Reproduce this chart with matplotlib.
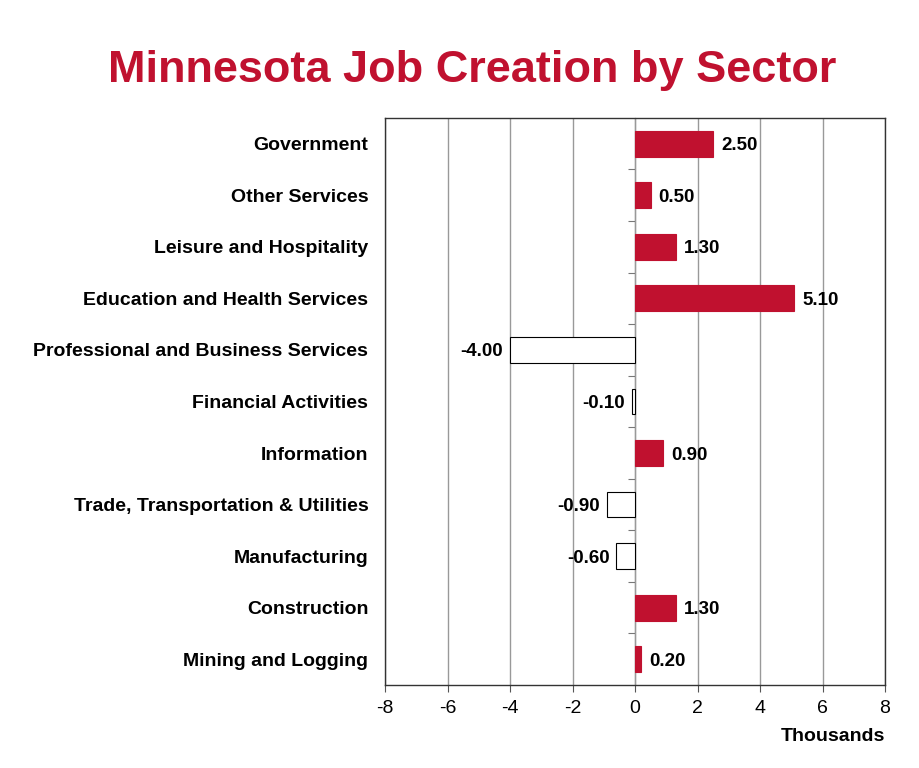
import matplotlib
matplotlib.use('Agg')
import matplotlib.pyplot as plt
import numpy as np

# data, bottom to top
sectors = ['Mining and Logging', 'Construction', 'Manufacturing',
           'Trade, Transportation & Utilities', 'Information',
           'Financial Activities', 'Professional and Business Services',
           'Education and Health Services', 'Leisure and Hospitality',
           'Other Services', 'Government']
jobs = [0.2, 1.3, -0.6, -0.9, 0.9, -0.1, -4.0, 5.1, 1.3, 0.5, 2.5]
xticks = [-8, -6, -4, -2, 0, 2, 4, 6, 8]

red = '#C0112F'
plt.rcParams['font.family'] = ['Liberation Sans', 'DejaVu Sans']

fig = plt.figure(figsize=(9.2, 7.68), dpi=100)
ax = fig.add_axes([0.4185, 0.108, 0.5435, 0.7385])

y = np.arange(len(sectors))
colors = [red if v >= 0 else 'white' for v in jobs]
edges = [red if v >= 0 else 'black' for v in jobs]
ax.barh(y, jobs, height=0.5, color=colors, edgecolor=edges, linewidth=0.8, zorder=3)

for yi, v in zip(y, jobs):
    if v >= 0:
        ax.text(v + 0.25, yi, f'{v:.2f}', va='center_baseline', ha='left',
                fontsize=13.5, fontweight='bold')
    else:
        ax.text(v - 0.22, yi, f'{v:.2f}', va='center_baseline', ha='right',
                fontsize=13.5, fontweight='bold')

ax.set_xlim(-8, 8)
ax.set_ylim(-0.5, len(sectors) - 0.5)
ax.set_xticks(xticks)
ax.set_xticklabels([str(t) for t in xticks], fontsize=14)
ax.set_yticks(y)
ax.set_yticklabels(sectors, fontsize=14, fontweight='bold')
ax.tick_params(axis='y', length=0, pad=12)
ax.tick_params(axis='x', length=5, color='#555555', pad=6)
ax.xaxis.grid(True, color='#999999', linewidth=1, zorder=0)
for s in ax.spines.values():
    s.set_color('#333333')
    s.set_linewidth(1)

# zero line with category separator ticks
sec = ax.secondary_yaxis(0.5)
sec.set_yticks(np.arange(len(sectors) - 1) + 0.5)
sec.set_yticklabels([])
sec.tick_params(length=5, color='#777777', direction='in')
sec.spines['left'].set_color('#777777')

ax.text(1.0, -0.075, 'Thousands', transform=ax.transAxes, ha='right', va='top',
        fontsize=14, fontweight='bold')

fig.text(0.513, 0.908, 'Minnesota Job Creation by Sector', ha='center', va='center',
         fontsize=32.5, fontweight='bold', color=red)

fig.savefig('out.png', dpi=100)
